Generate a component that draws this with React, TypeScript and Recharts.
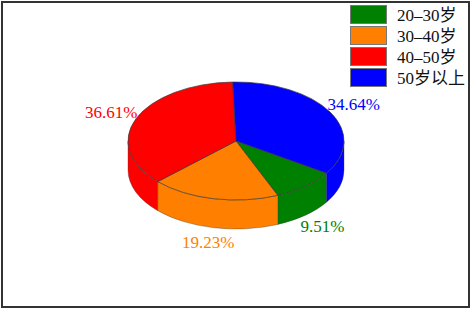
import { Legend, Pie, PieChart } from 'recharts';

const ageGroups = ['20–30岁', '30–40岁', '40–50岁', '50岁以上'];
const shares = [9.51, 19.23, 36.61, 34.64];
const colors = ['#008000', '#FF8000', '#FF0000', '#0000FF'];

const data = ageGroups.map((name, i) => ({ name, value: shares[i], fill: colors[i] }));

const FONT = '"Liberation Serif", "Noto Sans CJK SC", serif';
const CX = 236;
const CY = 141;
const RX = 108;
const RY = 59;
const DEPTH = 29;
const EDGE = '#3a3a3a';

function pt(angle: number) {
  const r = (angle * Math.PI) / 180;
  return { x: CX + RX * Math.cos(r), y: CY - RY * Math.sin(r) };
}

// wall between two angles (from > to, both in the front half of the disc)
function wallPath(from: number, to: number) {
  const a = pt(from);
  const b = pt(to);
  return [
    `M${a.x},${a.y}`,
    `A${RX},${RY} 0 0 1 ${b.x},${b.y}`,
    `L${b.x},${b.y + DEPTH}`,
    `A${RX},${RY} 0 0 0 ${a.x},${a.y + DEPTH}`,
    'Z',
  ].join(' ');
}

function Slice3D(props: any) {
  const hi = Math.max(props.startAngle, props.endAngle);
  const lo = Math.min(props.startAngle, props.endAngle);
  const walls: [number, number][] = [];
  for (const [top, bottom] of [
    [0, -180],
    [-360, -540],
  ]) {
    const from = Math.min(hi, top);
    const to = Math.max(lo, bottom);
    if (from > to) walls.push([from, to]);
  }
  const a = pt(hi);
  const b = pt(lo);
  const large = hi - lo > 180 ? 1 : 0;
  const top = `M${CX},${CY} L${a.x},${a.y} A${RX},${RY} 0 ${large} 1 ${b.x},${b.y} Z`;
  return (
    <g>
      {walls.map(([from, to]) => (
        <path key={from} d={wallPath(from, to)} fill={props.fill} stroke={EDGE} strokeWidth={0.35} />
      ))}
      <path d={top} fill={props.fill} stroke={EDGE} strokeWidth={0.7} />
    </g>
  );
}

function renderLabel(props: any) {
  const r = (props.midAngle * Math.PI) / 180;
  const sin = Math.sin(r);
  const x = CX + 1.25 * RX * Math.cos(r);
  const y = CY - 74 * sin + (sin < 0 ? DEPTH : 0);
  return (
    <text
      x={x}
      y={y}
      fill={props.fill}
      textAnchor="middle"
      dominantBaseline="central"
      fontFamily={FONT}
      fontSize={17}
    >
      {props.value.toFixed(2)}%
    </text>
  );
}

function renderLegend(props: any) {
  return (
    <div>
      {(props.payload ?? []).map((item: any) => (
        <div key={item.value} style={{ display: 'flex', alignItems: 'center', height: 21 }}>
          <span
            style={{
              width: 37,
              height: 19,
              background: item.color,
              border: '1px solid #777',
              boxSizing: 'border-box',
              marginRight: 10,
            }}
          />
          <span
            style={{
              fontFamily: FONT,
              fontSize: 17,
              color: '#111',
              whiteSpace: 'nowrap',
              position: 'relative',
              top: -1,
            }}
          >
            {item.value}
          </span>
        </div>
      ))}
    </div>
  );
}

export default function App() {
  return (
    <div style={{ position: 'absolute', left: 0, top: 0, width: 472, height: 310, background: '#fff' }}>
      <PieChart width={472} height={310}>
        <Pie
          data={data}
          dataKey="value"
          nameKey="name"
          cx={CX}
          cy={CY}
          innerRadius={0}
          outerRadius={RX}
          startAngle={-33}
          endAngle={-393}
          paddingAngle={0}
          shape={Slice3D}
          label={renderLabel}
          labelLine={false}
          isAnimationActive={false}
        />
        <Legend
          content={renderLegend}
          layout="vertical"
          wrapperStyle={{ position: 'absolute', left: 350, top: 4, width: 120 }}
        />
      </PieChart>
      <div
        style={{
          position: 'absolute',
          left: 1,
          top: 1,
          width: 469,
          height: 307,
          boxSizing: 'border-box',
          border: '2px solid #333',
          pointerEvents: 'none',
        }}
      />
    </div>
  );
}
